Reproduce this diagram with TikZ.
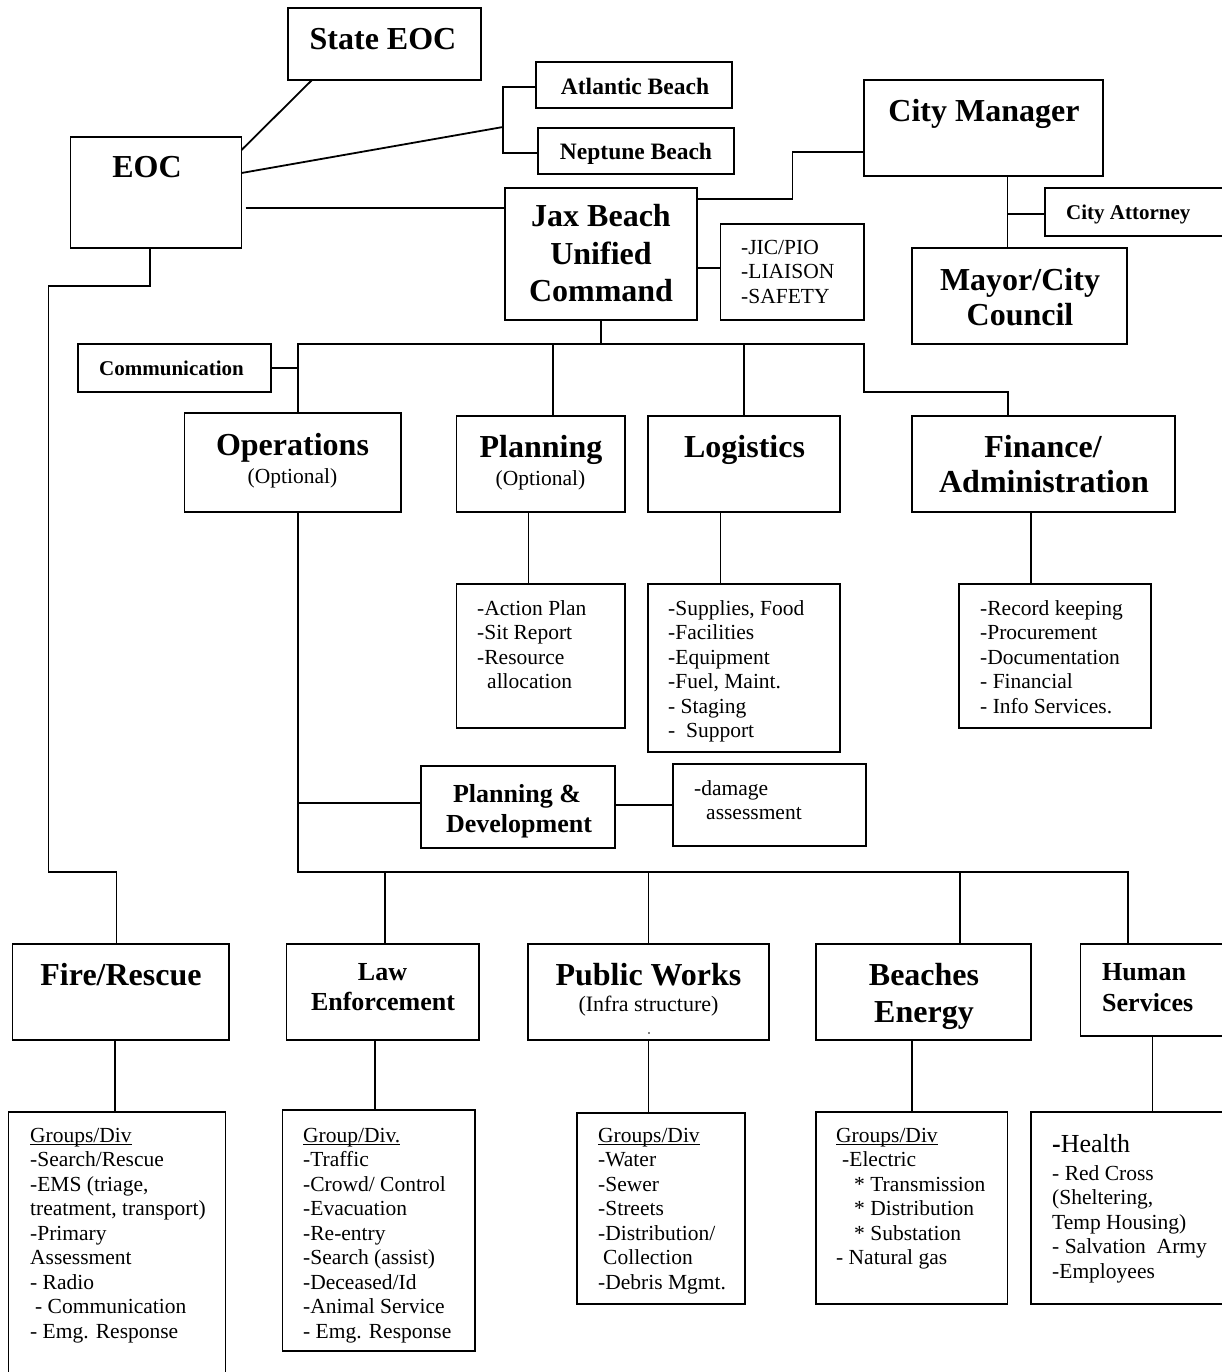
\documentclass[tikz,border=0pt]{standalone}
\usepackage{fontspec}
\setmainfont{Liberation Serif}
\usetikzlibrary{calc}

% underline drawn through descenders, as in a word processor
\newsavebox\udlbox
\newcommand\udl[1]{\sbox\udlbox{#1}\rlap{\rule[-2.8pt]{\wd\udlbox}{1pt}}\usebox\udlbox}

\tikzset{
  box/.style={draw, line width=1.8pt, inner sep=0pt, outer sep=0pt, anchor=north west},
  link/.style={line width=1.8pt},
  bigt/.style={font=\fontsize{32}{37}\selectfont\bfseries, inner sep=0pt, anchor=base},
  midt/.style={font=\fontsize{26}{30}\selectfont\bfseries, inner sep=0pt, anchor=base},
  smallt/.style={font=\fontsize{21}{24}\selectfont\bfseries, inner sep=0pt, anchor=base west},
  beacht/.style={font=\fontsize{23.5}{27}\selectfont\bfseries, inner sep=0pt, anchor=base},
  optt/.style={font=\fontsize{21.5}{24.5}\selectfont, inner sep=0pt, anchor=base},
  listt/.style={font=\fontsize{21.5}{24.5}\selectfont, inner sep=0pt, anchor=north west, align=left},
}

\begin{document}
\begin{tikzpicture}[x=1pt, y=-1pt]
\useasboundingbox (0,0) rectangle (1222,1372);
\fill[white] (0,0) rectangle (1222,1372);
\clip (0,0) rectangle (1222,1372);

% ---------- boxes ----------
\node[box, minimum width=193pt, minimum height=72pt]  (stateeoc) at (288,8) {};
\node[box, minimum width=171pt, minimum height=111pt] (eoc) at (70.5,137) {};
\node[box, minimum width=196pt, minimum height=46pt]  (atl) at (536,62) {};
\node[box, minimum width=196pt, minimum height=46pt]  (nep) at (538,128) {};
\node[box, minimum width=239pt, minimum height=96pt]  (cm) at (864,80) {};
\node[box, minimum width=192pt, minimum height=132pt] (jax) at (505,188) {};
\node[box, minimum width=143.5pt, minimum height=96pt] (jic) at (720.5,224) {};
\node[box, minimum width=200pt, minimum height=48pt]  (catt) at (1045,188) {};
\node[box, minimum width=215pt, minimum height=96pt]  (mayor) at (912,248) {};
\node[box, minimum width=193pt, minimum height=48pt]  (comm) at (78,344) {};
\node[box, minimum width=216.5pt, minimum height=99pt] (ops) at (184.5,413) {};
\node[box, minimum width=168.5pt, minimum height=96pt] (plan) at (456.5,416) {};
\node[box, minimum width=192pt, minimum height=96pt]  (log) at (648,416) {};
\node[box, minimum width=263pt, minimum height=96pt]  (fin) at (912,416) {};
\node[box, minimum width=168.5pt, minimum height=144pt] (plansub) at (456.5,584) {};
\node[box, minimum width=192pt, minimum height=168pt] (logsub) at (648,584) {};
\node[box, minimum width=192pt, minimum height=144pt] (finsub) at (959,584) {};
\node[box, minimum width=194pt, minimum height=82pt]  (pd) at (421,766) {};
\node[box, minimum width=193pt, minimum height=82pt]  (dmg) at (673,764) {};
\node[box, minimum width=216.5pt, minimum height=96pt] (fire) at (12.5,944) {};
\node[box, minimum width=192.5pt, minimum height=96pt] (law) at (286.5,944) {};
\node[box, minimum width=241pt, minimum height=96pt]  (pw) at (528,944) {};
\node[box, minimum width=215pt, minimum height=96pt]  (be) at (816,944) {};
\node[box, minimum width=160pt, minimum height=92pt]  (hs) at (1080.5,944) {};
\node[box, minimum width=217pt, minimum height=280pt] (firesub) at (8.5,1112) {};
\node[box, minimum width=192.5pt, minimum height=241pt] (lawsub) at (282.5,1110) {};
\node[box, minimum width=168pt, minimum height=191pt] (pwsub) at (577,1113) {};
\node[box, minimum width=191.5pt, minimum height=192pt] (besub) at (816,1112) {};
\node[box, minimum width=210pt, minimum height=192pt] (hssub) at (1031,1112) {};

% ---------- connectors ----------
\coordinate (brk) at (503,127);
\coordinate (busL) at (298.25,344);
\coordinate (busR) at (864,344);
\coordinate (busB) at (298.25,872);
\coordinate (busBR) at (1128,872);

\draw[link] ([xshift=24pt]stateeoc.south west) -- ([yshift=-13pt]eoc.north east);
\draw[link] ([yshift=-36pt]eoc.north east) -- (brk);
\draw[link] ([yshift=-2pt]atl.west) -- ++(-33,0) |- ([yshift=-2pt]nep.west);
\draw[link] ([xshift=4pt,yshift=-71pt]eoc.north east) -- ([yshift=-20pt]jax.north west);
\draw[link] ([xshift=79.5pt]eoc.south west) -- ++(0,38) -| (48.5,872) -| ([xshift=104pt]fire.north west);

\draw[link] ([yshift=-11pt]jax.north east) -- ++(95.5,0) |- ([yshift=-24pt]cm.west);
\draw[link] ([yshift=-14pt]jax.east) -- ([yshift=-14pt]jax.east -| jic.west);
\draw[link] ([xshift=-12pt]mayor.north) -- ([xshift=-12pt]mayor.north |- cm.south);
\draw[link] ([yshift=-2pt]catt.west) -- ++(-37.5,0);

\draw[link] (jax.south) -- (jax.south |- busL);
\draw[link] ([xshift=5.5pt]ops.north) -- (busL) -- (busR) -- ++(0,48) -| ([xshift=-35.5pt]fin.north);
\draw[link] (comm.east) -- (comm.east -| busL);
\draw[link] ([xshift=12pt]plan.north) -- ([xshift=12pt]plan.north |- busL);
\draw[link] (log.north) -- (log.north |- busL);

\draw[link] ([xshift=-12.25pt]plan.south) -- ([xshift=-12.25pt]plan.south |- plansub.north);
\draw[link] ([xshift=-23.5pt]log.south) -- ([xshift=-23.5pt]log.south |- logsub.north);
\draw[link] ([xshift=-12.5pt]fin.south) -- ([xshift=-12.5pt]fin.south |- finsub.north);

\draw[link] ([xshift=5.5pt]ops.south) -- (busB) -- (busBR) -- (busBR |- hs.north);
\draw[link] ([yshift=4pt]pd.west) -- ([yshift=4pt]pd.west -| busB);
\draw[link] ([yshift=2pt]pd.east) -- ([yshift=2pt]pd.east -| dmg.west);
\draw[link] ([xshift=2pt]law.north) -- ([xshift=2pt]law.north |- busB);
\draw[link] (pw.north) -- (pw.north |- busB);
\draw[link] ([xshift=36.5pt]be.north) -- ([xshift=36.5pt]be.north |- busB);

\draw[link] ([xshift=-5.5pt]fire.south) -- ([xshift=-5.5pt]fire.south |- firesub.north);
\draw[link] ([xshift=-8pt]law.south) -- ([xshift=-8pt]law.south |- lawsub.north);
\draw[link] (pw.south) -- (pw.south |- pwsub.north);
\draw[link] ([xshift=-11.5pt]be.south) -- ([xshift=-11.5pt]be.south |- besub.north);
\draw[link] ([xshift=72pt]hs.south west) -- ([xshift=72pt]hs.south west |- hssub.north);

% ---------- texts ----------
\node[bigt] (stateeoc-t) at (383,50) {State EOC};
\node[bigt] (eoc-t) at (147,178) {EOC};
\node[beacht] (atl-t) at (635,95) {Atlantic Beach};
\node[beacht] (nep-t) at (636,160) {Neptune Beach};
\node[bigt] (cm-t) at (984,122) {City Manager};
\node[bigt] (jax-t1) at (601,227) {Jax Beach};
\node[bigt] (jax-t2) at (601,264) {Unified};
\node[bigt] (jax-t3) at (601,301) {Command};
\node[listt] (jic-t) at (741,240) {-JIC/PIO\\-LIAISON\\-SAFETY};
\node[smallt] (catt-t) at (1066,220) {City Attorney};
\node[bigt] (mayor-t1) at (1020,290) {Mayor/City};
\node[bigt] (mayor-t2) at (1020,325) {Council};
\node[smallt] (comm-t) at (99,375) {Communication};

\node[bigt] (ops-t) at (292.5,455) {Operations};
\node[optt] (ops-s) at (292.5,483) {(Optional)};
\node[bigt] (plan-t) at (541,457) {Planning};
\node[optt] (plan-s) at (540.5,485) {(Optional)};
\node[bigt] (log-t) at (744.5,457) {Logistics};
\node[bigt] (fin-t1) at (1043,457) {Finance/};
\node[bigt] (fin-t2) at (1044,492) {Administration};

\node[listt] (plansub-t) at (477,600) {-Action Plan\\-Sit Report\\-Resource\\\hspace*{10pt}allocation};
\node[listt] (logsub-t) at (668,600) {-Supplies, Food\\-Facilities\\-Equipment\\-Fuel, Maint.\\- Staging\\-\ \ Support};
\node[listt] (finsub-t) at (980,600) {-Record keeping\\-Procurement\\-Documentation\\- Financial\\- Info Services.};

\node[midt] (pd-t1) at (517,802) {Planning \&};
\node[midt] (pd-t2) at (519,832) {Development};
\node[listt] (dmg-t) at (694,780) {-damage\\\hspace*{12pt}assessment};

\node[bigt] (fire-t) at (121,985) {Fire/Rescue};
\node[midt] (law-t1) at (382.5,980) {Law};
\node[midt] (law-t2) at (383,1010) {Enforcement};
\node[bigt] (pw-t) at (648.5,985) {Public Works};
\node[optt, font=\fontsize{22}{25}\selectfont] (pw-s) at (648.5,1011.5) {(Infra structure)};
\node[circle, fill, inner sep=0pt, minimum size=1.8pt] (pw-dot) at (649,1033) {};
\node[bigt] (be-t1) at (924,985) {Beaches};
\node[bigt] (be-t2) at (924,1022) {Energy};
\node[midt, anchor=base west] (hs-t1) at (1102,980) {Human};
\node[midt, anchor=base west] (hs-t2) at (1102,1011.5) {Services};

\node[listt] (firesub-t) at (30,1128) {\udl{Groups/Div}\\-Search/Rescue\\-EMS (triage,\\treatment, transport)\\-Primary\\Assessment\\- Radio\\\hspace*{5pt}- Communication\\- Emg. Response};
\node[listt] (lawsub-t) at (303,1128) {\udl{Group/Div.}\\-Traffic\\-Crowd/ Control\\-Evacuation\\-Re-entry\\-Search (assist)\\-Deceased/Id\\-Animal Service\\- Emg. Response};
\node[listt] (pwsub-t) at (598,1128) {\udl{Groups/Div}\\-Water\\-Sewer\\-Streets\\-Distribution/\\\hspace*{5pt}Collection\\-Debris Mgmt.};
\node[listt] (besub-t) at (836,1128) {\udl{Groups/Div}\\\hspace*{6pt}-Electric\\\hspace*{18pt}* Transmission\\\hspace*{18pt}* Distribution\\\hspace*{18pt}* Substation\\- Natural gas};
\node[listt, font=\fontsize{26}{30}\selectfont] (hssub-h) at (1052,1134) {{\bfseries -}Health};
\node[listt] (hssub-t) at (1052,1165) {- Red Cross\\(Sheltering,\\Temp Housing)\\- Salvation\ \ Army\\-Employees};
\end{tikzpicture}
\end{document}
